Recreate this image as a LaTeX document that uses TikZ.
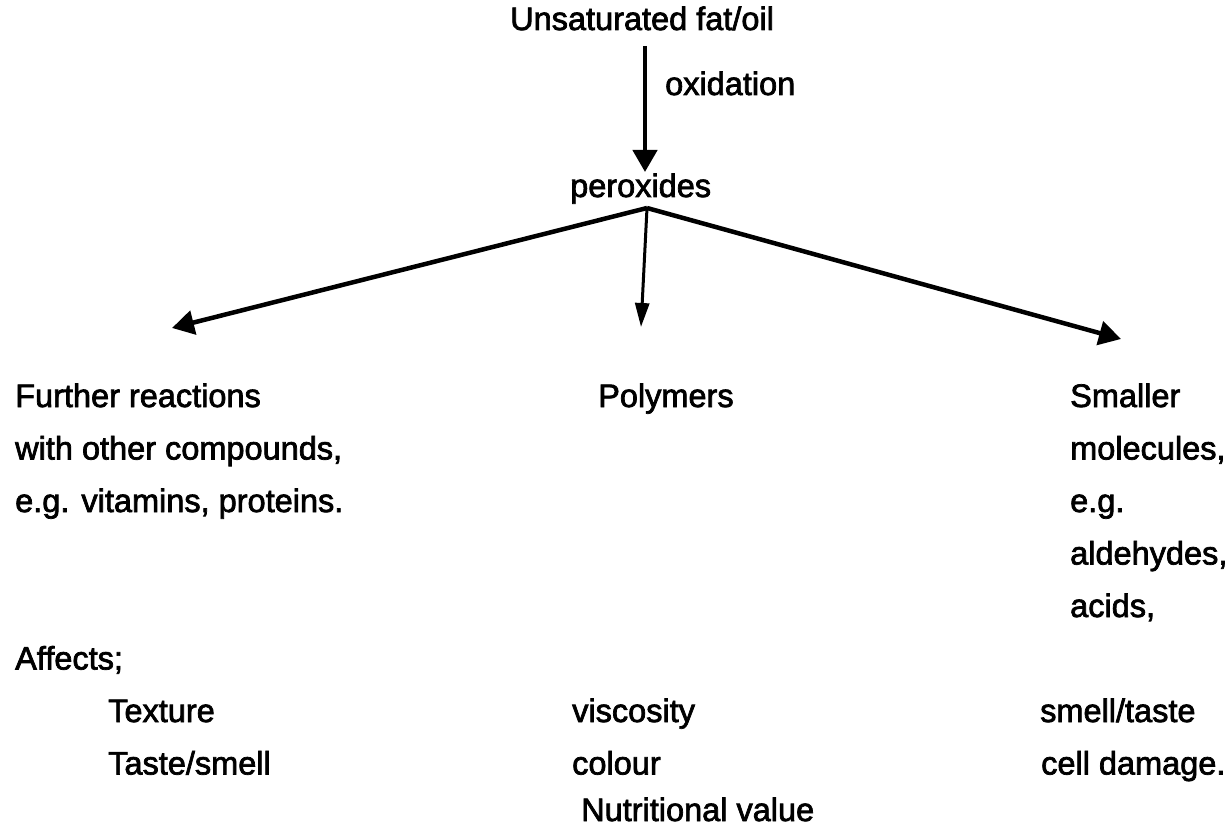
\documentclass[tikz,border=0pt]{standalone}
\usepackage{fontspec}
\setmainfont{Liberation Sans}[FakeBold=2.2]
\usetikzlibrary{arrows.meta}
\begin{document}
\begin{tikzpicture}[x=1pt,y=-1pt,
  txt/.style={inner sep=0pt,anchor=base west,font=\fontsize{32.5}{38}\selectfont},
  thick arrow/.style={line width=4.5pt,-{Triangle[width=24pt,length=22pt]}},
  thin arrow/.style={line width=3pt,-{Triangle[width=14pt,length=24pt]}}]
\useasboundingbox (0,0) rectangle (1227,829);
% top
\node[txt] (fat) at (510,30) {Unsaturated fat/oil};
\node[txt] (oxi) at (665,95) {oxidation};
\node[txt] (per) at (570,197) {peroxides};
\coordinate (a1s) at (645,46);
\coordinate (a1e) at (645,172);
\draw[thick arrow] (a1s) -- (a1e);
% branches
\coordinate (apex) at (647,208);
\coordinate (lt) at (172,328);
\coordinate (mt) at (641,327);
\coordinate (rt) at (1121,339);
\draw[thick arrow] (apex) -- (lt);
\draw[thin arrow] (apex) -- (mt);
\draw[thick arrow] (apex) -- (rt);
% left column
\node[txt] (l1) at (15,407) {Further reactions};
\node[txt] (l2) at (15,459.5) {with other compounds,};
\node[txt] (l3) at (15,512) {e.g. vitamins, proteins.};
\node[txt] (aff) at (15,669.5) {Affects;};
\node[txt] (l4) at (108,722) {Texture};
\node[txt] (l5) at (108,774.5) {Taste/smell};
% middle column
\node[txt] (m1) at (598,407) {Polymers};
\node[txt] (m2) at (572,722) {viscosity};
\node[txt] (m3) at (572,774.5) {colour};
\node[txt] (m4) at (581,821) {Nutritional value};
% right column
\node[txt] (r1) at (1070,407) {Smaller};
\node[txt] (r2) at (1070,459.5) {molecules,};
\node[txt] (r3) at (1070,512) {e.g.};
\node[txt] (r4) at (1070,564.5) {aldehydes,};
\node[txt] (r5) at (1070,617) {acids,};
\node[txt] (r6) at (1040,722) {smell/taste};
\node[txt] (r7) at (1041,774.5) {cell damage.};
\end{tikzpicture}
\end{document}
